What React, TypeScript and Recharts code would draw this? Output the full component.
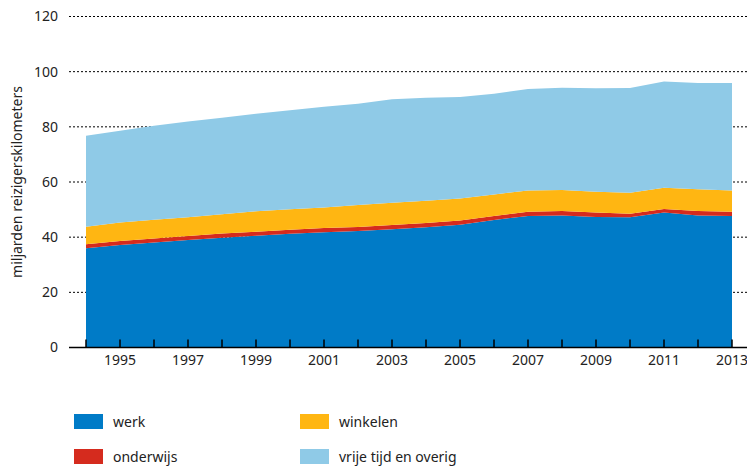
import React from "react"
import { AreaChart, Area, XAxis, YAxis, CartesianGrid } from "recharts"

const years = [1994, 1995, 1996, 1997, 1998, 1999, 2000, 2001, 2002, 2003, 2004, 2005, 2006, 2007, 2008, 2009, 2010, 2011, 2012, 2013]
const werk = [36.0, 37.2, 38.1, 39.0, 39.8, 40.5, 41.2, 41.8, 42.2, 42.9, 43.6, 44.5, 46.2, 47.7, 47.9, 47.3, 47.2, 48.9, 47.9, 47.7]
const onderwijs = [1.4, 1.4, 1.4, 1.4, 1.5, 1.5, 1.5, 1.5, 1.5, 1.5, 1.5, 1.5, 1.5, 1.5, 1.6, 1.6, 1.3, 1.3, 1.6, 1.5]
const winkelen = [6.4, 6.7, 6.8, 6.8, 7.0, 7.4, 7.4, 7.5, 8.0, 8.1, 8.1, 8.0, 7.8, 7.7, 7.6, 7.6, 7.6, 7.7, 7.9, 7.7]
const vrijeTijd = [33.0, 33.3, 34.1, 34.7, 35.0, 35.3, 35.9, 36.5, 36.7, 37.5, 37.3, 36.8, 36.5, 36.8, 37.1, 37.5, 38.0, 38.5, 38.5, 39.0]
const yTicks = [0, 20, 40, 60, 80, 100, 120]

const series = [
  { key: "werk", label: "werk", color: "#007BC7" },
  { key: "onderwijs", label: "onderwijs", color: "#D52B1E" },
  { key: "winkelen", label: "winkelen", color: "#FFB612" },
  { key: "vrijeTijd", label: "vrije tijd en overig", color: "#8FCAE7" },
]

const data = years.map((year, i) => ({
  year,
  werk: werk[i],
  onderwijs: onderwijs[i],
  winkelen: winkelen[i],
  vrijeTijd: vrijeTijd[i],
}))

const font = "'Noto Sans', sans-serif"
const textColor = "#222"

// legend order: two columns, werk/onderwijs left, winkelen/vrije tijd right
const legendOrder = ["werk", "winkelen", "onderwijs", "vrijeTijd"]

export default function App() {
  return (
    <div style={{ position: "absolute", left: 0, top: 0, width: 747, height: 468, background: "#fff", fontFamily: font }}>
      <AreaChart width={747} height={468} data={data} margin={{ top: 16.5, right: 0, bottom: 90.5, left: 0 }}>
        <CartesianGrid vertical={false} stroke="#000" strokeDasharray="2 2" />
        <YAxis
          type="number"
          domain={[0, 120]}
          ticks={yTicks}
          width={69}
          axisLine={false}
          tickLine={false}
          tickMargin={5}
          tick={{ fill: textColor, fontSize: 14, fontFamily: font }}
          label={{
            value: "miljarden reizigerskilometers",
            angle: -90,
            position: "center",
            dx: -17,
            style: { fill: textColor, fontSize: 14, fontFamily: font },
          }}
        />
        {series.map((s) => (
          <Area
            key={s.key}
            type="linear"
            dataKey={s.key}
            stackId="1"
            stroke="none"
            fill={s.color}
            fillOpacity={1}
            isAnimationActive={false}
          />
        ))}
        <XAxis
          dataKey="year"
          type="number"
          domain={[1994, 2013]}
          ticks={years}
          interval={0}
          padding={{ left: 17, right: 15 }}
          height={30}
          tickSize={-8}
          tickMargin={16}
          tickFormatter={(v: number) => (v % 2 === 1 ? String(v) : "")}
          axisLine={{ stroke: "#000", strokeWidth: 1.5 }}
          tickLine={{ stroke: "#000", strokeWidth: 1.5 }}
          tick={{ fill: textColor, fontSize: 14, fontFamily: font }}
        />
      </AreaChart>
      <div
        style={{
          position: "absolute",
          left: 74,
          top: 414,
          display: "grid",
          gridTemplateColumns: "226px 226px",
          rowGap: 20,
          fontSize: 14,
          color: textColor,
        }}
      >
        {legendOrder.map((k) => {
          const s = series.find((x) => x.key === k)!
          return (
            <div key={k} style={{ display: "flex", alignItems: "center", height: 15 }}>
              <span style={{ display: "inline-block", width: 29, height: 15, background: s.color, marginRight: 10 }} />
              <span>{s.label}</span>
            </div>
          )
        })}
      </div>
    </div>
  )
}
